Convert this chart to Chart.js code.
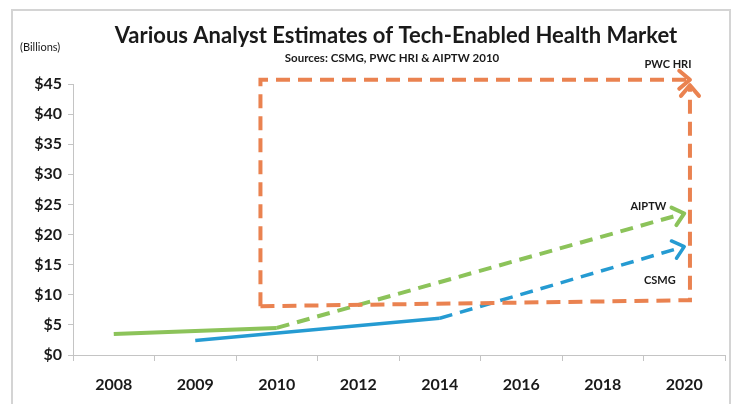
<!DOCTYPE html>
<html>
<head>
<meta charset="utf-8">
<script src="https://cdn.jsdelivr.net/npm/chart.js@4/dist/chart.umd.min.js"></script>
<style>
  html, body { margin: 0; padding: 0; background: #fff; }
  #wrap { position: relative; width: 739px; height: 404px; }
  #frame { position: absolute; left: 11px; top: 9px; width: 720px; height: 400px; border: 2px solid #d4d4d4; box-sizing: border-box; }
  canvas { position: absolute; left: 0; top: 0; }
</style>
</head>
<body>
<div id="wrap">
  <div id="frame"></div>
  <canvas id="market_chart" width="739" height="404"></canvas>
</div>
<script>
// category labels along the bottom (evenly spaced, not proportional years)
var years = ['2008', '2009', '2010', '2012', '2014', '2016', '2018', '2020'];
var yTicks = [0, 5, 10, 15, 20, 25, 30, 35, 40, 45];

// AIPTW: solid up to 2010, projected (dashed) to 2020
var aiptwX = [0, 2, 7];
var aiptwY = [3.5, 4.5, 23.5];
var aiptwSolidEnd = 1;

// CSMG: solid up to 2014, projected to 2020
var csmgX = [1, 4, 7];
var csmgY = [2.4, 6.1, 18];
var csmgSolidEnd = 1;

// PWC HRI box: two arrows from the lower-left corner to the upper-right one
var pwcTopX = [1.8, 1.8, 7.07];
var pwcTopY = [8.1, 45.7, 45.7];
var pwcSideX = [1.8, 7.07, 7.07];
var pwcSideY = [8.1, 9.1, 44.8];

var seriesNames = ['PWC HRI', 'AIPTW', 'CSMG'];

var GREEN = '#8cc35a';
var BLUE = '#259bd2';
var ORANGE = '#ea8250';
var AXIS = '#c4c4c4';
var FONT = 'Lato, "Open Sans", sans-serif';

function pts(xs, ys) {
    return xs.map(function (x, i) { return { x: x, y: ys[i] }; });
}

function dashAfter(n, dash) {
    return function (ctx) {
        return ctx.p0DataIndex >= n ? dash : undefined;
    };
}

// arrow heads at the end of each flagged line
var arrowPlugin = {
    id: 'arrows',
    afterDatasetsDraw: function (chart) {
        var ctx = chart.ctx;
        chart.data.datasets.forEach(function (ds, i) {
            if (!ds.arrow) {
                return;
            }
            var el = chart.getDatasetMeta(i).data;
            var a = el[el.length - 2], b = el[el.length - 1];
            var ang = Math.atan2(b.y - a.y, b.x - a.x);
            var len = 14, spread = 0.7;
            ctx.save();
            ctx.strokeStyle = ds.borderColor;
            ctx.lineWidth = ds.borderWidth;
            ctx.lineCap = 'round';
            ctx.lineJoin = 'round';
            ctx.beginPath();
            ctx.moveTo(b.x - len * Math.cos(ang - spread), b.y - len * Math.sin(ang - spread));
            ctx.lineTo(b.x, b.y);
            ctx.lineTo(b.x - len * Math.cos(ang + spread), b.y - len * Math.sin(ang + spread));
            ctx.stroke();
            ctx.restore();
        });
    }
};

// titles and series names
var textPlugin = {
    id: 'texts',
    afterDraw: function (chart) {
        var ctx = chart.ctx;
        var xs = chart.scales.x, ys = chart.scales.y;
        ctx.save();
        ctx.fillStyle = '#1a1a1a';
        ctx.textBaseline = 'middle';
        ctx.textAlign = 'center';
        ctx.font = 'bold 22px ' + FONT;
        ctx.fillText('Various Analyst Estimates of Tech-Enabled Health Market', 396, 36);
        ctx.font = 'bold 11.5px ' + FONT;
        ctx.fillText('Sources: CSMG, PWC HRI & AIPTW 2010', 392, 58);
        ctx.textAlign = 'left';
        ctx.font = '11px ' + FONT;
        ctx.fillText('(Billions)', 20, 47);

        var spots = [[6.8, 48.3], [6.56, 24.6], [6.7, 12.4]];
        ctx.textAlign = 'center';
        ctx.font = 'bold 11px ' + FONT;
        seriesNames.forEach(function (name, i) {
            ctx.fillText(name, xs.getPixelForValue(spots[i][0]), ys.getPixelForValue(spots[i][1]));
        });
        ctx.restore();
    }
};

function drawMarketChart() {
    var element = document.getElementById('market_chart');
    if (!element) {
        return;
    }

    var lineBase = {
        pointRadius: 0,
        pointHoverRadius: 0,
        tension: 0,
        fill: false,
        clip: false
    };

    var config = {
        type: 'line',
        data: {
            datasets: [
                Object.assign({}, lineBase, {
                    label: 'PWC HRI top',
                    data: pts(pwcTopX, pwcTopY),
                    borderColor: ORANGE,
                    borderWidth: 4,
                    borderDash: [14, 8],
                    arrow: true
                }),
                Object.assign({}, lineBase, {
                    label: 'PWC HRI side',
                    data: pts(pwcSideX, pwcSideY),
                    borderColor: ORANGE,
                    borderWidth: 4,
                    borderDash: [14, 8],
                    arrow: true
                }),
                Object.assign({}, lineBase, {
                    label: 'AIPTW',
                    data: pts(aiptwX, aiptwY),
                    borderColor: GREEN,
                    borderWidth: 4,
                    segment: { borderDash: dashAfter(aiptwSolidEnd, [13, 8]) },
                    arrow: true
                }),
                Object.assign({}, lineBase, {
                    label: 'CSMG',
                    data: pts(csmgX, csmgY),
                    borderColor: BLUE,
                    borderWidth: 3.5,
                    segment: { borderDash: dashAfter(csmgSolidEnd, [13, 8]) },
                    arrow: true
                })
            ]
        },
        options: {
            responsive: false,
            animation: false,
            events: [],
            layout: {
                padding: { top: 84, right: 14, left: 0, bottom: 0 }
            },
            plugins: {
                legend: { display: false },
                title: { display: false },
                tooltip: { enabled: false }
            },
            scales: {
                x: {
                    type: 'linear',
                    min: -0.5,
                    max: 7.5,
                    afterBuildTicks: function (scale) {
                        scale.ticks = years.map(function (y, i) { return { value: i }; });
                    },
                    afterFit: function (scale) {
                        scale.height = 49;
                    },
                    border: { color: AXIS, width: 1 },
                    grid: {
                        offset: true,
                        drawOnChartArea: false,
                        drawTicks: true,
                        tickLength: 6,
                        color: AXIS
                    },
                    ticks: {
                        autoSkip: false,
                        maxRotation: 0,
                        padding: 14,
                        color: '#1a1a1a',
                        font: { family: FONT, size: 16, weight: 'bold' },
                        callback: function (v) {
                            return years[Math.round(v)];
                        }
                    }
                },
                y: {
                    min: 0,
                    max: 45,
                    afterBuildTicks: function (scale) {
                        scale.ticks = yTicks.map(function (v) { return { value: v }; });
                    },
                    afterFit: function (scale) {
                        scale.width = 73;
                    },
                    border: { color: AXIS, width: 1 },
                    grid: {
                        drawOnChartArea: false,
                        drawTicks: true,
                        tickLength: 5,
                        color: AXIS
                    },
                    ticks: {
                        padding: 6,
                        color: '#1a1a1a',
                        font: { family: FONT, size: 16, weight: 'bold' },
                        callback: function (v) {
                            return '$' + v;
                        }
                    }
                }
            }
        },
        plugins: [arrowPlugin, textPlugin]
    };

    new Chart(element, config);
}

drawMarketChart();
</script>
</body>
</html>
